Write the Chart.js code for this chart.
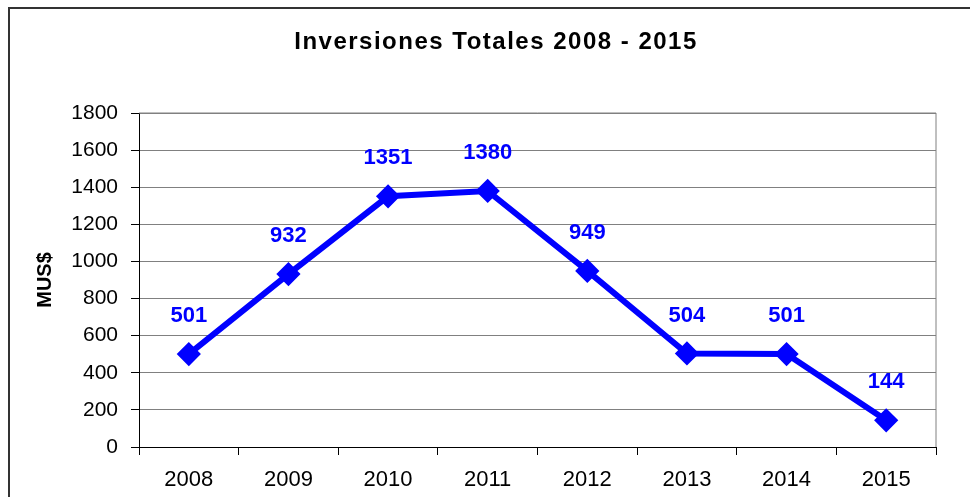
<!DOCTYPE html>
<html>
<head>
<meta charset="utf-8">
<title>Inversiones Totales 2008 - 2015</title>
<script src="https://cdn.jsdelivr.net/npm/chart.js@4/dist/chart.umd.min.js"></script>
<style>
  html, body { margin: 0; padding: 0; background: #fff; }
  #wrap { width: 970px; height: 497px; position: relative; }
</style>
</head>
<body>
<div id="wrap"><canvas id="myChart"></canvas></div>
<script>
var years = ['2008', '2009', '2010', '2011', '2012', '2013', '2014', '2015'];
var inversiones = [501, 932, 1351, 1380, 949, 504, 501, 144];
var yMin = 0;
var yMax = 1800;
var yStep = 200;
var chartTitle = 'Inversiones Totales 2008 - 2015';
var yTitle = 'MUS$';

Chart.defaults.font.family = '"Liberation Sans", Arial, sans-serif';
Chart.defaults.color = '#000';

// frame, title, plot border and value labels
var extras = {
  id: 'extras',
  beforeDraw: function (chart) {
    var ctx = chart.ctx;
    ctx.save();
    ctx.strokeStyle = '#333';
    ctx.lineWidth = 2;
    ctx.beginPath();
    ctx.moveTo(9, chart.height);
    ctx.lineTo(9, 8);
    ctx.lineTo(chart.width, 8);
    ctx.stroke();

    ctx.fillStyle = '#000';
    ctx.font = 'bold 24px "Liberation Sans", Arial, sans-serif';
    ctx.letterSpacing = '1.5px';
    ctx.textAlign = 'center';
    ctx.textBaseline = 'middle';
    ctx.fillText(chartTitle, 496, 42);
    ctx.restore();
  },
  beforeDatasetsDraw: function (chart) {
    var a = chart.chartArea;
    var ctx = chart.ctx;
    ctx.save();
    ctx.strokeStyle = '#808080';
    ctx.lineWidth = 1;
    ctx.beginPath();
    ctx.moveTo(a.left, a.top);
    ctx.lineTo(a.right, a.top);
    ctx.lineTo(a.right, a.bottom);
    ctx.stroke();
    ctx.restore();
  },
  afterDatasetsDraw: function (chart) {
    var ctx = chart.ctx;
    var meta = chart.getDatasetMeta(0);
    ctx.save();
    ctx.fillStyle = '#0000ff';
    ctx.font = 'bold 22px "Liberation Sans", Arial, sans-serif';
    ctx.textAlign = 'center';
    ctx.textBaseline = 'middle';
    meta.data.forEach(function (pt, i) {
      ctx.fillText(String(inversiones[i]), pt.x, pt.y - 38);
    });
    ctx.restore();
  }
};

new Chart('myChart', {
  type: 'line',
  data: {
    labels: years,
    datasets: [{
      data: inversiones,
      borderColor: '#0000ff',
      backgroundColor: '#0000ff',
      borderWidth: 6,
      pointStyle: 'rectRot',
      pointRadius: 10,
      pointBorderWidth: 3,
      pointBackgroundColor: '#0000ff',
      pointBorderColor: '#0000ff',
      tension: 0
    }]
  },
  options: {
    responsive: true,
    maintainAspectRatio: false,
    animation: false,
    layout: { padding: { top: 113, right: 34, left: 0, bottom: 0 } },
    plugins: {
      legend: { display: false },
      title: { display: false },
      tooltip: { enabled: false }
    },
    scales: {
      x: {
        offset: true,
        grid: {
          offset: true,
          drawOnChartArea: false,
          drawTicks: true,
          tickLength: 8,
          tickColor: '#000'
        },
        border: { color: '#000', width: 1 },
        ticks: { color: '#000', font: { size: 22 }, padding: 12, maxRotation: 0 },
        afterFit: function (s) { s.height = 50; }
      },
      y: {
        min: yMin,
        max: yMax,
        ticks: {
          stepSize: yStep,
          color: '#000',
          font: { size: 21 },
          padding: 13,
          callback: function (v) { return String(v); }
        },
        grid: { color: '#808080', tickColor: '#000', tickLength: 8 },
        border: { color: '#000', width: 1 },
        title: {
          display: true,
          text: yTitle,
          color: '#000',
          font: { size: 20, weight: 'bold' },
          padding: { top: 33, bottom: 0 }
        },
        afterFit: function (s) { s.width = 139; }
      }
    }
  },
  plugins: [extras]
});
</script>
</body>
</html>
